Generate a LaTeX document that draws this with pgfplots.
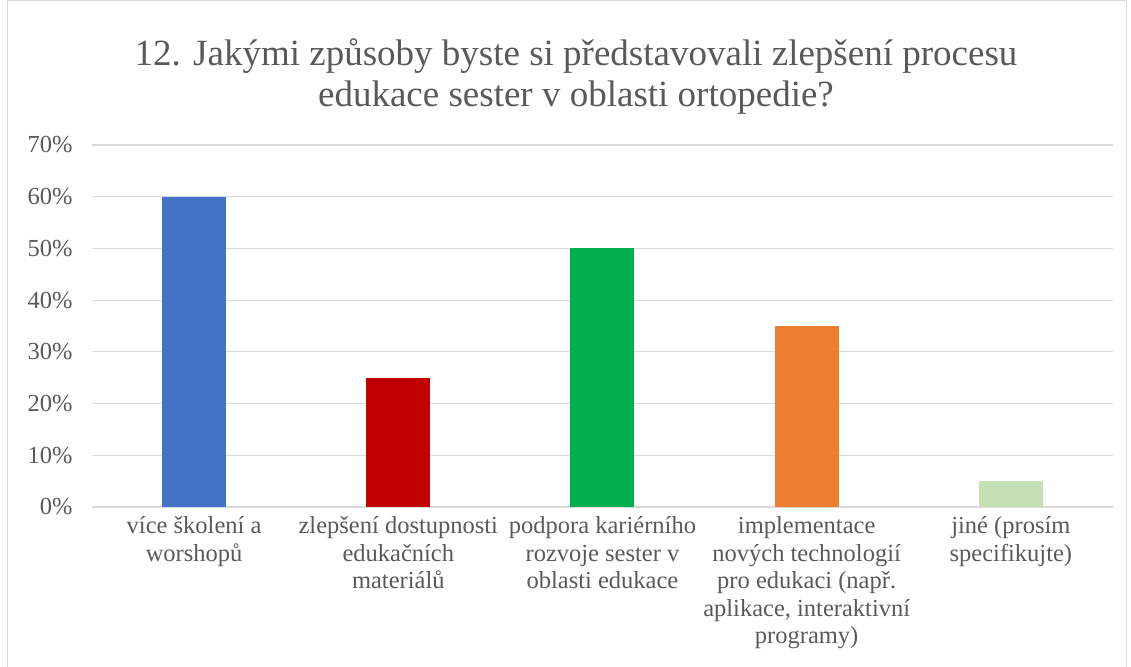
\documentclass[border=0pt]{standalone}
\usepackage{pgfplots}
\pgfplotsset{compat=1.18}
\usepackage{fontspec}
\setmainfont{Liberation Serif}
\definecolor{txt}{HTML}{595959}
\definecolor{gridc}{HTML}{D9D9D9}
\definecolor{c1}{HTML}{4472C4}
\definecolor{c2}{HTML}{C00000}
\definecolor{c3}{HTML}{00B050}
\definecolor{c4}{HTML}{ED7D31}
\definecolor{c5}{HTML}{C5E0B4}
\begin{document}
\begin{tikzpicture}[x=1pt,y=1pt]
\useasboundingbox (0,0) rectangle (1131,666);
\draw[gridc, line width=1pt] (7.5,-2) -- (7.5,665.5) -- (1126,665.5) -- (1126,-2);
\node[text=txt, align=center, font=\fontsize{37}{41}\selectfont, anchor=center] at (576,589) {12. Jakými způsoby byste si představovali zlepšení procesu\\edukace sester v oblasti ortopedie?};
\begin{axis}[
  at={(92pt,159pt)}, anchor=south west,
  scale only axis, width=1021pt, height=362pt,
  xmin=-0.5, xmax=4.5, ymin=0, ymax=70,
  xtick={0,1,2,3,4},
  xticklabels={{více školení a\\worshopů},{zlepšení dostupnosti\\edukačních\\materiálů},{podpora kariérního\\rozvoje sester v\\oblasti edukace},{implementace\\nových technologií\\pro edukaci (např.\\aplikace, interaktivní\\programy)},{jiné (prosím\\specifikujte)}},
  ytick={0,10,...,70},
  yticklabel={\pgfmathprintnumber{\tick}\%},
  /pgf/number format/assume math mode=true,
  ymajorgrids, grid style={gridc, line width=1.2pt},
  axis line style={draw=none},
  major tick length=0pt,
  yticklabel style={text=txt, font=\fontsize{24.5}{28}\selectfont, anchor=east, xshift=-16pt},
  xticklabel style={text=txt, font=\fontsize{24.5}{27.5}\selectfont, align=center, anchor=north, yshift=-6pt},
  clip=false,
]
\addplot[ybar, bar width=64pt, fill=c1, draw=none] coordinates {(0,60)};
\addplot[ybar, bar width=64pt, fill=c2, draw=none] coordinates {(1,25)};
\addplot[ybar, bar width=64pt, fill=c3, draw=none] coordinates {(2,50)};
\addplot[ybar, bar width=64pt, fill=c4, draw=none] coordinates {(3,35)};
\addplot[ybar, bar width=64pt, fill=c5, draw=none] coordinates {(4,5)};
\end{axis}
\end{tikzpicture}
\end{document}
